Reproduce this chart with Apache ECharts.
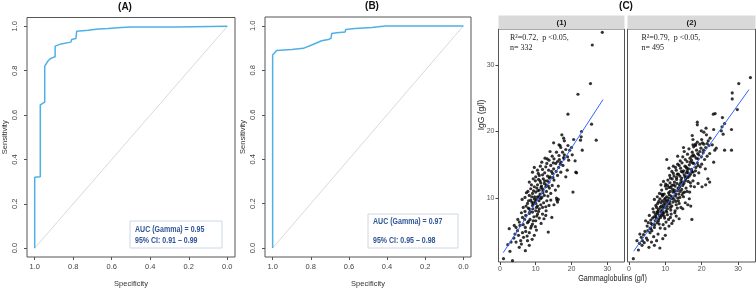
<!DOCTYPE html>
<html>
<head>
<meta charset="utf-8">
<script src="https://cdn.jsdelivr.net/npm/echarts@6/dist/echarts.min.js"></script>
<style>
html, body { margin: 0; padding: 0; background: #fff; }
#main { width: 756px; height: 293px; }
</style>
</head>
<body>
<div id="main"></div>
<script>
const specA = [1.0, 1.0, 0.971, 0.971, 0.948, 0.948, 0.93, 0.919, 0.907, 0.894, 0.894, 0.863, 0.812, 0.808, 0.786, 0.782, 0.782, 0.722, 0.67, 0.619, 0.55, 0.5, 0.27, 0.27, 0.0];
const sensA = [0.0, 0.32, 0.322, 0.646, 0.658, 0.821, 0.845, 0.854, 0.859, 0.863, 0.911, 0.921, 0.929, 0.941, 0.945, 0.945, 0.978, 0.982, 0.988, 0.99, 0.995, 0.997, 0.997, 1.0, 1.0];
const specB = [1.0, 1.0, 0.991, 0.979, 0.97, 0.9, 0.839, 0.795, 0.743, 0.708, 0.694, 0.69, 0.664, 0.62, 0.617, 0.568, 0.48, 0.41, 0.31, 0.0];
const sensB = [0.0, 0.869, 0.877, 0.889, 0.892, 0.894, 0.899, 0.914, 0.933, 0.939, 0.944, 0.966, 0.969, 0.972, 0.984, 0.988, 0.993, 0.999, 1.0, 1.0];
const rocTicks = [0, 0.2, 0.4, 0.6, 0.8, 1.0];
const aucA = ['AUC (Gamma) = 0.95', '95% CI: 0.91 \u2013 0.99'];
const aucB = ['AUC (Gamma) = 0.97', '95% CI: 0.95 \u2013 0.98'];

// panel C: gammaglobulins (g/l) vs IgG (g/l)
const pointsC1 = [
  [1.0,0.9],[3.5,0.6],[2.8,2.0],[5.4,2.6],[7.1,2.1],[4.5,3.4],[5.8,3.6],[3.1,3.4],[8.2,2.9],[7.7,3.6],
  [9.6,4.4],[13.5,4.9],[4.2,4.6],[4.9,5.1],[6.3,4.8],[7.2,5.0],[8.2,4.8],[8.6,5.5],[5.6,5.9],[7.1,5.6],
  [2.6,5.4],[3.9,4.0],[5.2,4.4],[6.0,3.1],[2.2,3.0],[9.0,3.8],[6.6,4.1],[4.0,5.9],[7.6,4.3],[10.2,5.2],
  [7.7,6.3],[9.1,6.1],[10.0,6.6],[11.0,7.0],[12.3,6.9],[11.9,7.6],[6.3,7.1],[7.2,7.4],[8.2,7.7],[5.4,6.4],
  [4.5,5.6],[6.5,6.0],[8.4,6.8],[9.5,7.2],[10.5,7.6],[7.0,8.0],[8.8,5.8],[6.0,7.8],[9.9,5.7],[11.5,6.2],
  [12.8,7.4],[5.0,6.8],[8.0,6.5],[10.8,8.0],[14.5,7.1],
  [9.1,7.9],[10.0,8.1],[11.0,8.4],[8.2,8.4],[9.1,8.9],[10.0,9.2],[10.5,8.8],[11.4,9.0],[12.8,8.7],[13.7,8.9],
  [15.1,9.0],[16.1,9.4],[14.2,9.7],[7.7,9.2],[8.6,9.7],[9.6,9.9],[10.5,10.2],[11.4,9.9],[12.4,10.4],[6.5,8.6],
  [7.3,8.8],[8.0,9.6],[9.2,8.4],[9.8,9.5],[10.9,9.6],[11.9,8.6],[12.2,9.3],[13.1,9.6],[6.2,9.8],[7.0,10.1],
  [8.9,10.2],[10.2,8.6],[11.7,10.1],[13.4,10.3],[15.8,10.0],[12.9,8.1],[16.3,9.8],[15.9,9.7],
  [8.2,10.4],[9.1,10.7],[10.0,10.9],[11.0,11.2],[11.9,11.4],[12.8,11.7],[8.6,11.4],[9.6,11.7],[10.5,12.0],[11.4,12.3],
  [12.4,12.2],[13.7,12.4],[15.1,12.7],[8.2,12.4],[9.3,12.9],[7.8,11.0],[9.4,11.1],[10.3,11.5],[11.2,10.6],[12.0,10.8],
  [13.0,11.0],[13.8,11.5],[14.6,11.9],[9.9,12.6],[10.8,12.8],[12.1,12.9],[13.2,12.6],[7.4,10.8],[8.8,12.0],[16.3,11.8],
  [15.5,11.2],[14.2,10.7],[11.6,11.8],
  [10.0,13.2],[11.0,13.4],[11.9,13.5],[13.3,13.3],[14.7,13.7],[16.1,13.4],[18.4,13.2],[17.0,13.9],[9.1,13.9],[10.5,14.2],
  [11.9,14.3],[12.8,14.7],[14.2,14.9],[15.6,15.2],[11.3,14.8],[12.5,13.8],[13.6,14.2],[15.0,14.4],[16.4,14.6],[17.6,14.9],
  [14.0,13.2],[10.7,13.7],[9.6,14.6],[13.1,15.2],[18.8,14.2],[16.9,15.1],[21.2,13.9],
  [17.0,15.4],[11.7,15.4],[13.7,15.7],[15.1,15.9],[16.1,15.5],[17.9,15.9],[18.9,16.2],[16.5,16.4],[17.5,16.9],[18.4,17.3],
  [19.5,17.2],[20.2,16.5],[23.0,17.2],[14.6,16.3],[15.8,16.9],[17.0,17.6],[18.0,16.5],[19.2,15.7],[20.0,17.6],[12.6,16.0],
  [14.0,17.0],[16.8,17.9],[19.0,17.9],[21.0,15.6],[13.2,15.9],
  [16.5,18.0],[17.3,19.5],[20.6,18.8],[22.5,18.7],[22.7,19.2],[22.8,20.0],[26.9,18.7],[25.6,21.1],[19.0,22.6],[21.8,25.6],
  [25.3,27.2],[25.8,33.0],[28.6,34.9],[21.4,13.8],[20.4,10.9],[18.0,18.6],[15.0,18.3],[17.8,19.0],
  [8.4,8.0],[9.3,9.2],[10.2,9.8],[11.1,10.3],[12.0,11.1],[12.9,12.0],[13.8,13.0],[14.8,13.1],[15.7,14.0],[9.7,10.2],
  [10.6,11.1],[11.5,11.6],[12.5,12.6],[14.4,14.0],[8.9,9.4],[7.9,8.5],[10.9,10.1],[13.5,11.8],[16.6,15.8],[17.8,16.1],
  [10.3,7.3],[9.3,6.6],[11.2,12.6],[14.9,15.3],[6.9,6.8]
];
const pointsC2 = [
  [1.2,0.9],[3.0,4.6],[4.2,3.3],[5.5,2.6],[8.5,2.5],[2.6,2.2],[3.6,2.9],[4.8,4.0],[2.2,3.6],[6.2,3.4],
  [7.0,2.9],[3.4,4.1],[5.1,3.7],[6.8,4.2],[7.6,3.6],[4.4,5.0],[5.8,4.8],[9.3,3.9],[10.0,4.4],[2.9,3.2],
  [6.0,5.4],[8.0,4.6],
  [5.0,5.8],[6.1,6.2],[7.0,5.6],[7.8,6.3],[8.6,5.5],[9.4,6.0],[10.2,6.4],[11.0,5.8],[6.5,7.0],[7.4,7.3],
  [8.2,6.9],[9.0,7.4],[9.8,7.0],[10.6,7.5],[11.4,7.1],[12.2,6.6],[13.0,7.3],[4.6,6.6],[5.6,7.4],[6.8,7.9],
  [7.9,7.7],[8.8,7.9],[9.6,7.8],[10.9,6.8],[12.6,7.8],[13.8,6.9],[8.3,6.1],[9.9,5.4],[17.3,6.8],[5.3,6.3],
  [7.2,6.6],[11.8,6.2],
  [6.6,8.4],[7.4,8.9],[8.1,8.3],[8.8,9.3],[9.4,8.6],[10.0,9.1],[10.6,8.4],[11.2,9.5],[11.8,8.8],[12.4,9.8],
  [13.0,9.0],[13.6,9.6],[14.3,8.6],[14.8,8.4],[15.5,9.3],[16.2,9.0],[16.6,9.9],[7.0,9.8],[7.8,10.2],[8.5,9.9],
  [9.2,10.3],[9.8,9.8],[10.4,10.2],[11.0,10.0],[11.6,10.3],[12.1,9.4],[12.8,10.3],[13.3,8.5],[14.0,10.1],[15.0,10.2],
  [9.0,8.2],[10.2,8.1],[11.5,8.2],[12.7,8.1],[7.6,8.6],[8.2,9.5],[9.6,9.4],[10.8,9.2],[13.8,9.2],[17.0,8.8],
  [11.4,8.6],[8.9,8.8],
  [8.4,10.7],[9.0,11.2],[9.7,10.6],[10.3,11.4],[10.9,10.8],[11.5,11.6],[12.1,10.9],[12.7,11.8],[13.3,11.1],[13.9,12.0],
  [14.5,11.3],[15.1,12.2],[15.7,11.5],[16.3,12.5],[17.0,11.8],[18.0,11.7],[20.1,11.7],[21.1,12.0],[22.2,12.4],[21.7,12.9],
  [8.8,12.0],[9.5,12.5],[10.1,12.1],[10.7,12.7],[11.3,12.3],[11.9,12.9],[12.5,12.4],[13.1,12.8],[13.7,10.6],[14.3,12.7],
  [14.9,10.8],[15.6,12.9],[16.7,10.9],[17.6,12.6],[19.0,12.2],[12.0,11.3],[13.5,11.5],[10.6,11.9],[9.3,10.5],[11.1,10.5],
  [14.0,11.7],[16.0,11.0],
  [10.4,15.8],[11.2,13.4],[11.8,14.0],[12.4,13.3],[13.0,14.2],[13.6,13.6],[14.2,14.5],[14.8,13.9],[15.4,14.8],[16.0,14.1],
  [16.6,15.0],[17.2,14.3],[17.8,15.2],[18.4,14.6],[19.2,13.8],[20.0,15.1],[21.0,14.4],[12.2,14.8],[13.4,15.1],[14.6,15.3],
  [15.8,13.2],[16.9,13.6],[18.0,13.4],[19.6,14.7],[11.0,14.5],[13.1,13.1],[14.0,13.3],[15.2,13.5],[16.3,13.8],[17.5,15.3],
  [18.8,15.3],[12.8,14.6],[14.4,14.0],[15.9,14.5],
  [14.1,15.6],[14.8,16.2],[15.5,15.8],[16.1,16.6],[16.8,16.0],[17.4,16.9],[18.0,16.3],[18.6,17.2],[19.2,16.5],[19.8,17.5],
  [20.4,16.8],[21.1,17.6],[22.2,16.7],[23.3,15.4],[23.6,17.2],[26.3,17.2],[28.2,17.2],[15.2,17.0],[16.5,17.4],[17.8,17.7],
  [19.0,15.9],[20.8,15.8],[22.0,17.9],[13.4,16.3],[16.0,15.5],[17.2,15.7],[18.3,17.9],[21.5,16.3],[24.0,17.5],[15.0,17.6],
  [33.4,28.1],[30.2,27.2],[28.4,25.8],[28.4,24.9],[29.8,23.3],[23.7,22.7],[23.2,22.6],[18.8,21.4],[18.8,21.0],[25.7,22.1],
  [26.3,21.2],[21.2,20.5],[19.9,20.1],[23.3,20.3],[25.6,20.7],[25.4,20.1],[28.2,20.3],[25.9,19.6],[17.4,19.4],[21.3,19.5],
  [17.6,18.8],[18.8,18.4],[20.0,18.8],[21.5,18.2],[18.3,18.1],[19.5,18.1],[20.6,18.1],[17.6,18.0],[22.9,18.0],[22.3,19.0],
  [20.6,19.9],
  [7.5,7.0],[8.7,7.1],[9.3,7.6],[10.5,8.8],[11.7,9.9],[12.9,10.6],[13.6,11.4],[14.7,12.4],[15.4,13.2],[16.4,14.4],
  [17.3,14.0],[8.0,8.0],[9.1,9.6],[10.0,10.0],[11.3,11.0],[12.3,12.0],[13.2,12.2],[14.5,13.0],[15.8,13.8],[16.9,15.4],
  [6.3,5.1],[7.1,6.0],[6.0,6.7],[5.2,5.1],[4.0,4.5],[3.7,3.6],[18.5,16.0],[19.5,17.0],[17.7,16.5],[20.2,18.3],
  [6.9,7.2],[7.7,7.9],[8.4,7.4],[9.2,8.0],[9.9,8.6],[10.6,9.7],[11.3,9.1],[12.0,10.1],[12.6,10.9],[13.4,10.0],
  [14.1,11.0],[14.8,11.9],[15.5,12.6],[16.2,13.1],[16.9,12.3],[17.6,13.9],[18.3,14.1],[19.0,14.9],[8.6,8.6],[9.5,9.0],
  [10.3,9.5],[11.0,11.6],[11.8,11.9],[12.5,11.2],[13.3,13.6],[14.2,12.3],[15.0,14.1],[15.7,14.7],[16.6,13.3],[17.3,16.3],
  [7.3,7.6],[8.1,6.6],[9.7,7.3],[10.4,7.9],[11.6,7.6],[12.9,9.5],[14.6,10.5],[15.3,10.9],[13.8,14.9],[12.2,13.7],
  [11.4,13.0],[10.0,11.8],[9.0,10.6],[7.9,9.2],[6.4,6.0],[5.8,5.5],[18.9,16.7],[20.5,17.2],[21.8,18.6],[19.9,16.2]
];
const fitC1 = [[0.93, 1.8], [28.8, 24.8]];
const fitC2 = [[1.3, 2.03], [33.0, 26.3]];
const cXTicks = [0, 10, 20, 30];
const cYTicks = [10, 20, 30];
const statsC1 = ['R\u00b2=0.72,  p <0.05,', 'n= 332'];
const statsC2 = ['R\u00b2=0.79,  p <0.05,', 'n= 495'];

const sans = "'Liberation Sans', Arial, sans-serif";
const serif = "'Liberation Serif', 'Times New Roman', serif";

const chart = echarts.init(document.getElementById('main'));

function rocXAxis(gi) {
  return {
    type: 'value', gridIndex: gi, inverse: true, min: -0.04, max: 1.04,
    axisLine: { show: false, onZero: false },
    axisTick: { show: true, length: 3, customValues: rocTicks, lineStyle: { color: '#555' } },
    axisLabel: { customValues: rocTicks, formatter: v => v.toFixed(1), fontSize: 7.5, color: '#444', margin: 6, fontFamily: sans },
    splitLine: { show: false },
    name: 'Specificity', nameLocation: 'middle', nameGap: 23,
    nameTextStyle: { fontSize: 7.5, color: '#333', fontFamily: sans }
  };
}
function rocYAxis(gi) {
  return {
    type: 'value', gridIndex: gi, min: -0.04, max: 1.04,
    axisLine: { show: false, onZero: false },
    axisTick: { show: true, length: 3, customValues: rocTicks, lineStyle: { color: '#555' } },
    axisLabel: { customValues: rocTicks, formatter: v => v.toFixed(1), rotate: 90, fontSize: 7.5, color: '#444', margin: 8, fontFamily: sans },
    splitLine: { show: false },
    name: 'Sensitivity', nameLocation: 'middle', nameGap: 18,
    nameTextStyle: { fontSize: 7.5, color: '#333', fontFamily: sans }
  };
}
function cXAxis(gi) {
  return {
    type: 'value', gridIndex: gi, min: -0.4, max: 34.8,
    axisLine: { show: false, onZero: false },
    axisTick: { show: true, length: 3, customValues: cXTicks, lineStyle: { color: '#444' } },
    axisLabel: { customValues: cXTicks, fontSize: 7, color: '#555', margin: 4, fontFamily: sans },
    splitLine: { show: false }
  };
}
function cYAxis(gi, showLabels) {
  return {
    type: 'value', gridIndex: gi, min: 0.4, max: 35.4,
    axisLine: { show: false, onZero: false },
    axisTick: { show: showLabels, length: 3, customValues: cYTicks, lineStyle: { color: '#444' } },
    axisLabel: { show: showLabels, customValues: cYTicks, fontSize: 7, color: '#555', margin: 4, fontFamily: sans },
    splitLine: { show: false }
  };
}

// the source figure is squeezed sideways, so its text is drawn a bit narrower
function aucBox(x, y, w, h, lines, y1, y2) {
  const font = 'bold 9.5px ' + sans;
  return [
    { type: 'rect', shape: { x: x, y: y, width: w, height: h }, style: { fill: '#fff', stroke: '#cfd6e4', lineWidth: 1 } },
    { type: 'text', x: x + 5, y: y1, scaleX: 0.74, style: { text: lines[0], fill: '#2f5597', font: font, verticalAlign: 'middle' } },
    { type: 'text', x: x + 5, y: y2, scaleX: 0.74, style: { text: lines[1], fill: '#2f5597', font: font, verticalAlign: 'middle' } }
  ];
}

const titleStyle = { fontSize: 10, fontWeight: 'bold', color: '#111', fontFamily: sans };

const option = {
  animation: false,
  backgroundColor: '#fff',
  title: [
    { text: '(A)', left: 125, top: 2, padding: 0, textAlign: 'center', textStyle: titleStyle },
    { text: '(B)', left: 372, top: 1, padding: 0, textAlign: 'center', textStyle: titleStyle },
    { text: '(C)', left: 626, top: 1, padding: 0, textAlign: 'center', textStyle: titleStyle }
  ],
  grid: [
    { left: 25, top: 17.5, width: 210, height: 242, show: true, borderColor: '#555', borderWidth: 1, backgroundColor: 'transparent' },
    { left: 265, top: 17, width: 206, height: 242, show: true, borderColor: '#555', borderWidth: 1, backgroundColor: 'transparent' },
    { left: 498.5, top: 29, width: 126, height: 233, show: true, borderColor: '#555', borderWidth: 1, backgroundColor: 'transparent' },
    { left: 627.5, top: 29, width: 128, height: 233, show: true, borderColor: '#555', borderWidth: 1, backgroundColor: 'transparent' }
  ],
  xAxis: [rocXAxis(0), rocXAxis(1), cXAxis(2), cXAxis(3)],
  yAxis: [rocYAxis(0), rocYAxis(1), cYAxis(2, true), cYAxis(3, false)],
  series: [
    { type: 'line', xAxisIndex: 0, yAxisIndex: 0, data: [[1, 0], [0, 1]], showSymbol: false, lineStyle: { color: '#cfcfcf', width: 0.8 } },
    { type: 'line', xAxisIndex: 0, yAxisIndex: 0, data: specA.map((s, i) => [s, sensA[i]]), showSymbol: false, lineStyle: { color: '#4fb0e6', width: 1.5 } },
    { type: 'line', xAxisIndex: 1, yAxisIndex: 1, data: [[1, 0], [0, 1]], showSymbol: false, lineStyle: { color: '#cfcfcf', width: 0.8 } },
    { type: 'line', xAxisIndex: 1, yAxisIndex: 1, data: specB.map((s, i) => [s, sensB[i]]), showSymbol: false, lineStyle: { color: '#4fb0e6', width: 1.5 } },
    { type: 'scatter', xAxisIndex: 2, yAxisIndex: 2, data: pointsC1, symbolSize: 3.2, itemStyle: { color: '#000' } },
    { type: 'line', xAxisIndex: 2, yAxisIndex: 2, data: fitC1, showSymbol: false, lineStyle: { color: '#3366ff', width: 1 }, z: 3 },
    { type: 'scatter', xAxisIndex: 3, yAxisIndex: 3, data: pointsC2, symbolSize: 3.2, itemStyle: { color: '#000' } },
    { type: 'line', xAxisIndex: 3, yAxisIndex: 3, data: fitC2, showSymbol: false, lineStyle: { color: '#3366ff', width: 1 }, z: 3 }
  ],
  graphic: [
    ...aucBox(130, 221, 92, 27, aucA, 229.5, 240.5),
    ...aucBox(368, 214, 90, 34, aucB, 221, 240),
    // facet strips
    { type: 'rect', shape: { x: 498.5, y: 15.5, width: 126, height: 13.5 }, style: { fill: '#d9d9d9' } },
    { type: 'rect', shape: { x: 627.5, y: 15.5, width: 128, height: 13.5 }, style: { fill: '#d9d9d9' } },
    { type: 'text', x: 561.5, y: 22.5, style: { text: '(1)', font: 'bold 8px ' + sans, fill: '#1a1a1a', align: 'center', verticalAlign: 'middle' } },
    { type: 'text', x: 691.5, y: 22.5, style: { text: '(2)', font: 'bold 8px ' + sans, fill: '#1a1a1a', align: 'center', verticalAlign: 'middle' } },
    // fit statistics
    { type: 'text', x: 510, y: 38, style: { text: statsC1[0], font: '8px ' + serif, fill: '#222', verticalAlign: 'middle' } },
    { type: 'text', x: 510, y: 48, style: { text: statsC1[1], font: '8px ' + serif, fill: '#222', verticalAlign: 'middle' } },
    { type: 'text', x: 641.5, y: 38, style: { text: statsC2[0], font: '8px ' + serif, fill: '#222', verticalAlign: 'middle' } },
    { type: 'text', x: 641.5, y: 48, style: { text: statsC2[1], font: '8px ' + serif, fill: '#222', verticalAlign: 'middle' } },
    // axis titles of panel C
    { type: 'text', x: 612.5, y: 279, scaleX: 0.85, style: { text: 'Gammaglobulins (g/l)', font: '8.5px ' + sans, fill: '#222', align: 'center', verticalAlign: 'middle' } },
    { type: 'text', x: 482, y: 115, rotation: Math.PI / 2, style: { text: 'IgG (g/l)', font: '8.5px ' + sans, fill: '#222', align: 'center', verticalAlign: 'middle' } }
  ]
};
chart.setOption(option);
</script>
</body>
</html>
